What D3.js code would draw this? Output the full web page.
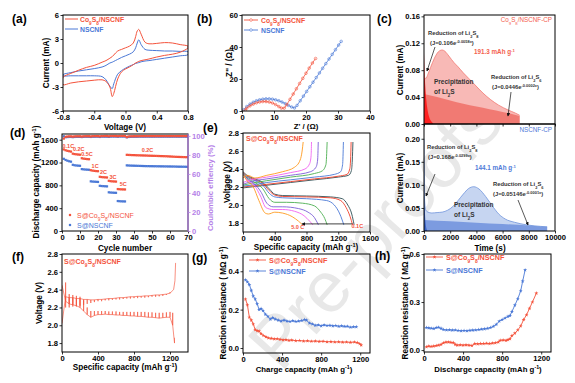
<!DOCTYPE html>
<html><head><meta charset="utf-8">
<script src="https://cdn.jsdelivr.net/npm/d3@7/dist/d3.min.js"></script>
<style>html,body{margin:0;padding:0;background:#fff;overflow:hidden}</style>
</head><body>
<svg id="fig" width="575" height="383"></svg>
<script>
// ---------------- DATA ----------------
// (a) CV
const cvGrid = [-0.8,-0.7,-0.6,-0.5,-0.4,-0.3,-0.25,-0.2,-0.17,-0.15,-0.1,-0.05,0,0.05,0.1,0.13,0.15,0.17,0.2,0.25,0.3,0.4,0.5,0.6,0.7,0.8];
const cvCoFwd = [-1.8,-1.3,-0.9,-0.55,-0.3,0.1,0.3,0.6,0.8,1.0,1.5,1.7,1.9,2.1,2.5,3.3,4.0,4.2,3.6,2.6,2.4,2.45,2.55,2.5,2.3,2.1];
const cvCoRev = [-2.7,-2.5,-2.35,-2.25,-2.15,-2.1,-2.3,-3.0,-4.2,-3.8,-2.0,-1.1,-0.75,-0.5,-0.2,0.0,0.1,0.2,0.3,0.4,0.5,0.75,0.95,1.1,1.35,1.9];
const cvNFwd = [-1.45,-1.2,-1.0,-0.85,-0.7,-0.5,-0.3,0.0,0.1,0.2,0.45,0.7,0.9,1.1,1.4,1.9,2.5,2.9,2.3,1.7,1.6,1.55,1.5,1.5,1.45,1.4];
const cvNRev = [-1.6,-1.6,-1.6,-1.6,-1.6,-1.7,-2.1,-2.9,-3.2,-2.6,-1.4,-0.95,-0.65,-0.4,-0.2,-0.05,0.0,0.05,0.15,0.25,0.3,0.45,0.6,0.75,0.9,1.05];
// (b) EIS
const eisCoRe = [1,1.5,2.5,3.5,4.5,5.5,6.5,7.5,8.5,9.5,10.5,11.5,12.3,13.2,14,15,16,17,18,19,20,21,22,23];
const eisCoIm = [0.5,1.8,3.2,4.3,5.1,5.6,5.9,5.9,5.6,5,4,2.8,1.8,1.8,4,7.3,10.6,13.9,17.2,20.4,23.6,26.8,30,32.8];
const eisNRe = [0.5,1.5,2.5,3.5,4.5,5.5,6.5,7.5,8.5,9.5,10.5,11.5,12.5,13.5,14.5,15.5,16.4,17.2,18.2,19.2,20.2,21.2,22.2,23.2,24.2,25.2,26.2,27.2,28.2,29.2,30.2,31];
const eisNIm = [0.8,2.8,4.3,5.5,6.4,7,7.4,7.6,7.6,7.4,7,6.4,5.6,4.6,3.5,2.5,1.9,3.5,6.4,9.3,12.2,15.1,18,20.9,23.8,26.7,29.6,32.5,35.4,38.3,41.2,43.5];
// (c) chronoamperometry
const cCoTotT = [0,50,150,300,500,800,1000,1200,1400,1600,1900,2300,2600,3000,3400,3900,4500,5100,5700,6400,7000,7300];
const cCoTotI = [0.075,0.068,0.068,0.074,0.084,0.098,0.105,0.109,0.11,0.108,0.101,0.091,0.085,0.076,0.068,0.058,0.046,0.036,0.028,0.021,0.016,0.013];
const cCoExpT = [0,1000,2000,3000,4000,5000,6000,7000,7300];
const cCoExpI = [0.0446,0.04,0.035,0.03,0.026,0.022,0.018,0.0135,0.012];
const cCoSpkT = [0,40,100,180,280,400,550,700];
const cCoSpkI = [0.106,0.08,0.055,0.035,0.02,0.01,0.004,0.001];
const cNTotT = [0,40,130,300,600,1000,1400,1800,2200,2600,3000,3400,3800,4200,4700,5200,5700,6200,6900,7900,8900,9400];
const cNTotI = [0.2,0.07,0.046,0.041,0.039,0.04,0.041,0.045,0.053,0.066,0.08,0.092,0.096,0.091,0.075,0.055,0.037,0.026,0.019,0.013,0.01,0.009];
const cNExpT = [0,2000,4000,6000,8000,9400];
const cNExpI = [0.024,0.021,0.018,0.015,0.012,0.009];
const cNSpkT = [0,15,40,80,130,200,260];
const cNSpkI = [0.168,0.12,0.07,0.035,0.015,0.004,0.0];
// (d) rate performance
const dCapCo = [1430,1415,1405,1398,1392, 1355,1348,1344,1340,1337, 1275,1268,1264,1260,1258, 1065,1058,1054,1050,1048, 950,945,942,940,938, 880,873,870,868,866, 735,732,730,729,728,
 1335,1333,1332,1330,1330,1328,1327,1326,1325,1324,1323,1322,1320,1319,1318,1317,1316,1315,1314,1313,1312,1311,1310,1308,1306,1304,1302,1300,1299,1298,1297,1296,1295,1294,1293];
const dCapN = [1265,1245,1232,1222,1215, 1160,1152,1148,1145,1143, 1085,1080,1077,1075,1073, 870,866,864,862,860, 792,788,786,784,782, 678,674,672,670,669, 525,522,520,519,518,
 1150,1148,1146,1145,1144,1143,1142,1141,1140,1139,1138,1137,1137,1136,1136,1135,1135,1134,1134,1133,1133,1132,1132,1131,1131,1130,1130,1129,1128,1127,1127,1126,1126,1125,1125];
const dCeCo = [97.2,99.0,99.3,99.5,99.5,99.2,99.5,99.6,99.6,99.6,99.3,99.6,99.7,99.7,99.7,99.4,99.7,99.8,99.8,99.8,99.5,99.8,99.8,99.9,99.9,99.6,99.9,99.9,99.9,99.9,99.7,99.9,99.9,99.9,99.9,
 98.8,99.4,99.6,99.6,99.7,99.7,99.7,99.7,99.8,99.8,99.8,99.8,99.8,99.8,99.8,99.8,99.8,99.8,99.8,99.8,99.8,99.8,99.8,99.8,99.8,99.8,99.8,99.8,99.8,99.8,99.8,99.8,99.8,99.8,99.8];
const dCeN = [99.6,98.6,98.8,98.9,98.9,98.7,98.9,99.0,99.0,99.0,98.8,99.0,99.1,99.1,99.1,98.9,99.1,99.1,99.2,99.2,98.9,99.2,99.2,99.2,99.2,99.0,99.2,99.3,99.3,99.3,99.1,99.3,99.3,99.3,99.3,
 98.5,98.9,99.0,99.1,99.1,99.1,99.1,99.2,99.2,99.2,99.2,99.2,99.2,99.2,99.2,99.2,99.2,99.2,99.2,99.2,99.2,99.2,99.2,99.2,99.2,99.2,99.2,99.2,99.2,99.2,99.2,99.2,99.2,99.2,99.2];
const dRateLabels = ['0.1C','0.2C','0.5C','1C','2C','3C','5C','0.2C'];
const dRateCycle = [3.5,9.3,13.9,18.4,23,28.3,34,47.5];
const dRateCap = [1455,1400,1315,1105,1000,915,790,1383];
// (e) charge-discharge profiles
const eRates = ['0.1C','0.2C','0.5C','1C','2C','3C','5C'];
const eColors = ['#2f4f55','#f0402a','#4a78d6','#4caf50','#7b5fd6','#f062f0','#ff9a1f'];
const eDisCap = [
 [0,50,150,250,330,400,500,800,1100,1250,1320,1370,1400],
 [0,50,150,250,330,400,500,800,1100,1230,1300,1350,1380],
 [0,50,150,250,330,400,500,800,1050,1150,1220,1270],
 [0,50,150,250,330,400,550,750,900,980,1030,1060],
 [0,50,150,230,300,380,500,700,820,900,950],
 [0,50,150,220,290,380,500,650,770,840,880],
 [0,50,130,200,280,320,400,500,620,700,750]];
const eDisV = [
 [2.37,2.33,2.29,2.25,2.18,2.12,2.105,2.1,2.09,2.07,2.0,1.9,1.78],
 [2.36,2.32,2.28,2.24,2.16,2.11,2.095,2.09,2.08,2.05,1.97,1.87,1.78],
 [2.35,2.31,2.27,2.22,2.13,2.09,2.08,2.07,2.05,2.0,1.9,1.78],
 [2.35,2.3,2.25,2.18,2.07,2.03,2.03,2.02,1.99,1.92,1.85,1.78],
 [2.34,2.29,2.23,2.14,2.02,1.98,1.98,1.96,1.92,1.86,1.78],
 [2.34,2.28,2.21,2.1,1.97,1.95,1.95,1.93,1.88,1.82,1.78],
 [2.34,2.27,2.2,2.05,1.91,1.9,1.92,1.91,1.87,1.82,1.78]];
const eChCap = [
 [0,100,300,600,900,1200,1330,1365,1377,1385],
 [0,100,300,600,900,1200,1310,1345,1355,1362],
 [0,100,300,600,900,1150,1230,1255,1265],
 [0,100,300,600,900,1000,1045,1060],
 [0,100,300,600,850,920,940,948],
 [0,100,300,600,780,840,858,863],
 [0,60,150,300,500,650,720,745,758]];
const eChV = [
 [2.19,2.2,2.22,2.25,2.28,2.31,2.33,2.38,2.5,2.7],
 [2.2,2.21,2.23,2.26,2.29,2.32,2.34,2.4,2.5,2.7],
 [2.21,2.22,2.25,2.28,2.31,2.34,2.37,2.45,2.7],
 [2.22,2.24,2.27,2.31,2.35,2.38,2.45,2.7],
 [2.23,2.26,2.29,2.33,2.37,2.42,2.5,2.7],
 [2.25,2.28,2.31,2.36,2.4,2.46,2.55,2.7],
 [2.3,2.33,2.3,2.33,2.37,2.42,2.5,2.6,2.7]];
// (f) GITT
const fDisStart = [0,2.45];
const fDisCap = [40,80,120,160,200,240,280,320,360,400,440,480,520,560,600,640,680,720,760,800,840,880,920,960,1000,1040,1080,1120,1160,1200,1230,1250];
const fDisLoad = [2.27,2.24,2.23,2.22,2.20,2.16,2.12,2.09,2.11,2.12,2.12,2.125,2.12,2.12,2.115,2.115,2.11,2.11,2.105,2.105,2.1,2.1,2.095,2.09,2.09,2.085,2.08,2.085,2.09,2.09,2.0,1.8];
const fDisRelax = [2.48,2.35,2.34,2.33,2.32,2.28,2.2,2.16,2.16,2.16,2.16,2.16,2.155,2.155,2.155,2.15,2.15,2.15,2.15,2.15,2.15,2.15,2.15,2.145,2.145,2.14,2.14,2.14,2.145,2.15,2.14,1.86];
const fChStart = [0,2.02];
const fChCap = [40,80,120,160,200,240,280,320,360,400,440,480,520,560,600,640,680,720,760,800,840,880,920,960,1000,1040,1080,1120,1160,1200,1240,1255,1262];
const fChLoad = [2.32,2.31,2.31,2.3,2.3,2.29,2.29,2.285,2.285,2.29,2.29,2.295,2.3,2.3,2.305,2.31,2.31,2.315,2.32,2.32,2.325,2.325,2.33,2.33,2.335,2.34,2.34,2.345,2.35,2.36,2.4,2.5,2.7];
const fChRelax = [2.2,2.2,2.21,2.21,2.22,2.23,2.24,2.25,2.26,2.27,2.27,2.28,2.28,2.285,2.29,2.29,2.295,2.3,2.3,2.305,2.305,2.31,2.31,2.315,2.32,2.32,2.325,2.33,2.34,2.37,2.4,2.5,2.7];
// (g) reaction resistance during charge
const gCoCap = [25,45,65,85,105,125,145,165,185,210,235,260,290,320,350,380,410,440,470,500,540,580,620,660,700,740,780,820,860,900,940,980,1020,1060,1100,1140,1170,1195,1210];
const gCoR = [0.255,0.225,0.16,0.145,0.125,0.095,0.09,0.088,0.075,0.065,0.058,0.052,0.05,0.047,0.048,0.045,0.042,0.043,0.04,0.041,0.038,0.039,0.036,0.037,0.035,0.036,0.034,0.035,0.032,0.033,0.031,0.032,0.03,0.031,0.029,0.031,0.028,0.022,0.015];
const gNCap = [25,45,65,85,105,125,145,165,185,205,230,255,280,305,330,360,390,420,450,480,510,540,570,600,630,650,680,710,740,770,800,830,860,890,920,950,980,1010,1040,1070,1100,1130,1160];
const gNR = [0.355,0.345,0.33,0.3,0.27,0.255,0.23,0.2,0.205,0.195,0.175,0.165,0.15,0.158,0.15,0.145,0.14,0.145,0.14,0.138,0.142,0.138,0.14,0.143,0.148,0.145,0.13,0.125,0.118,0.12,0.115,0.12,0.117,0.118,0.115,0.117,0.113,0.115,0.112,0.113,0.108,0.11,0.11];
// (h) reaction resistance during discharge
const hCoCap = [25,50,75,100,125,150,175,200,225,250,275,300,320,340,370,400,430,460,490,520,550,580,610,640,670,700,730,760,780,810,840,860,880,900,930,960,990,1020,1050,1080,1110,1150];
const hCoR = [0.02,0.025,0.022,0.025,0.028,0.03,0.035,0.045,0.05,0.05,0.048,0.046,0.035,0.03,0.032,0.03,0.032,0.03,0.028,0.04,0.038,0.04,0.04,0.042,0.04,0.043,0.045,0.05,0.06,0.062,0.06,0.065,0.07,0.09,0.105,0.125,0.15,0.19,0.22,0.26,0.3,0.355];
const hNCap = [25,50,75,100,125,150,175,200,230,260,290,320,350,380,410,440,470,500,530,560,590,620,650,680,710,740,770,800,830,860,880,900,930,960,990,1010,1035];
const hNR = [0.14,0.138,0.136,0.134,0.14,0.142,0.135,0.128,0.125,0.126,0.124,0.125,0.122,0.12,0.122,0.12,0.123,0.124,0.125,0.128,0.13,0.132,0.135,0.14,0.148,0.16,0.18,0.19,0.2,0.21,0.215,0.24,0.28,0.32,0.37,0.43,0.5];

// ---------------- HELPERS ----------------
const svg = d3.select('#fig');
const FONT = '"Liberation Sans", Arial, Helvetica, sans-serif';
const RED = '#f4533c', BLUE = '#4a78d6', PURPLE = '#b57fe8', GREY = '#333';
const zip = (a,b) => a.map((v,i)=>[v,b[i]]);
const fmt1 = d => d3.format('.1f')(d).replace('\u2212','-');
const fmt2 = d => d3.format('.2f')(d);
const fmtD = d => d3.format('d')(d).replace('\u2212','-');

function rich(t,str){
  str.split(/(_\{[^}]*\}|\^\{[^}]*\})/).filter(s=>s.length).forEach(s=>{
    if(s.startsWith('_{')) t.append('tspan').attr('baseline-shift','sub').attr('font-size','68%').text(s.slice(2,-1));
    else if(s.startsWith('^{')) t.append('tspan').attr('baseline-shift','super').attr('font-size','68%').text(s.slice(2,-1));
    else t.append('tspan').text(s);
  });
}
function label(x,y,str,o={}){
  const t = svg.append('text').attr('x',x).attr('y',y).attr('font-family',FONT)
    .attr('font-weight',o.weight||'bold').attr('font-size',o.size||8.2)
    .attr('fill',o.color||'#000').attr('text-anchor',o.anchor||'start');
  if(o.rot) t.attr('transform',`rotate(${o.rot},${x},${y})`);
  rich(t,str); return t;
}
let clipN = 0;
function panel(L,R,T,B,xd,yd){
  const id = 'clip'+(clipN++);
  svg.append('clipPath').attr('id',id).append('rect').attr('x',L).attr('y',T).attr('width',R-L).attr('height',B-T);
  return {L,R,T,B,x:d3.scaleLinear().domain(xd).range([L,R]),y:d3.scaleLinear().domain(yd).range([B,T]),
          g:svg.append('g').attr('clip-path',`url(#${id})`)};
}
function box(p,color){
  svg.append('rect').attr('x',p.L).attr('y',p.T).attr('width',p.R-p.L).attr('height',p.B-p.T)
    .attr('fill','none').attr('stroke',color||'#000').attr('stroke-width',1);
}
function styleAxis(s,color){
  s.select('.domain').remove();
  s.selectAll('line').attr('stroke',color).attr('stroke-width',0.8);
  s.selectAll('text').attr('font-family',FONT).attr('font-size',7.6).attr('font-weight','bold').attr('fill',color);
}
function bottomAxis(p,ticks,f,showLabels=true){
  const a = d3.axisBottom(p.x).tickValues(ticks).tickSize(2.5).tickPadding(1).tickFormat(showLabels?f:()=>'');
  styleAxis(svg.append('g').attr('transform',`translate(0,${p.B})`).call(a),'#000');
}
function leftAxis(p,ticks,f){
  const a = d3.axisLeft(p.y).tickValues(ticks).tickSize(2.5).tickPadding(1.5).tickFormat(f);
  styleAxis(svg.append('g').attr('transform',`translate(${p.L},0)`).call(a),'#000');
}
const lineGen = (p,curve) => d3.line().x(d=>p.x(d[0])).y(d=>p.y(d[1])).curve(curve||d3.curveLinear);
const areaGen = p => d3.area().x(d=>p.x(d[0])).y0(p.y(0)).y1(d=>p.y(d[1])).curve(d3.curveMonotoneX);

// arrow marker
const defs = svg.append('defs');
defs.append('marker').attr('id','arr').attr('viewBox','0 0 6 6').attr('refX',5).attr('refY',3)
  .attr('markerWidth',5).attr('markerHeight',5).attr('orient','auto')
  .append('path').attr('d','M0,0 L6,3 L0,6 z').attr('fill','#111');

// watermark
svg.append('text').attr('transform','translate(375,232) rotate(-48)').attr('text-anchor','middle')
  .attr('dominant-baseline','central').attr('font-family',FONT).attr('font-size',72)
  .attr('fill','#e8e8e8').text('Pre-proofs');

// ---------------- (a) ----------------
{
  const p = panel(63,188,15,111,[-0.8,0.8],[-6,6]);
  const loop = (f,r) => zip(cvGrid,f).concat(zip(cvGrid,r).reverse());
  p.g.append('path').attr('d',lineGen(p,d3.curveCatmullRomClosed.alpha(0.5))(loop(cvNFwd,cvNRev)))
    .attr('fill','none').attr('stroke',BLUE).attr('stroke-width',1);
  p.g.append('path').attr('d',lineGen(p,d3.curveCatmullRomClosed.alpha(0.5))(loop(cvCoFwd,cvCoRev)))
    .attr('fill','none').attr('stroke',RED).attr('stroke-width',1);
  box(p);
  bottomAxis(p,[-0.8,-0.4,0,0.4,0.8],fmt1);
  leftAxis(p,[-6,-3,0,3,6],fmtD);
  label(125,130,'Voltage (V)',{anchor:'middle'});
  label(49,63,'Current (mA)',{anchor:'middle',rot:-90});
  svg.append('line').attr('x1',65).attr('x2',78).attr('y1',19).attr('y2',19).attr('stroke',RED).attr('stroke-width',1);
  label(80,21.5,'Co_{9}S_{8}/NSCNF',{size:6.8,color:RED});
  svg.append('line').attr('x1',65).attr('x2',78).attr('y1',29).attr('y2',29).attr('stroke',BLUE).attr('stroke-width',1);
  label(80,31.5,'NSCNF',{size:6.8,color:BLUE});
  label(12,23,'(a)',{size:12});
}
// ---------------- (b) ----------------
{
  const p = panel(242,370,15,111,[0,40],[0,60]);
  [[eisNRe,eisNIm,BLUE],[eisCoRe,eisCoIm,RED]].forEach(([xr,yi,c])=>{
    const pts = zip(xr,yi);
    p.g.append('path').attr('d',lineGen(p)(pts)).attr('fill','none').attr('stroke',c).attr('stroke-width',0.8);
    p.g.selectAll(null).data(pts).enter().append('circle').attr('cx',d=>p.x(d[0])).attr('cy',d=>p.y(d[1]))
      .attr('r',1.3).attr('fill','none').attr('stroke',c).attr('stroke-width',0.6);
  });
  box(p);
  bottomAxis(p,[0,10,20,30,40],fmtD);
  leftAxis(p,[0,20,40,60],fmtD);
  label(306,128.5,"Z' / (\u03a9)",{anchor:'middle',size:7.8});
  label(232,63,"Z'' / (\u03a9)",{anchor:'middle',rot:-90});
  [[20,RED,'Co_{9}S_{8}/NSCNF'],[30,BLUE,'NSCNF']].forEach(([yy,c,s])=>{
    svg.append('line').attr('x1',244).attr('x2',258).attr('y1',yy).attr('y2',yy).attr('stroke',c).attr('stroke-width',0.9);
    svg.append('circle').attr('cx',251).attr('cy',yy).attr('r',1.3).attr('fill','#fff').attr('stroke',c).attr('stroke-width',0.6);
    label(261,yy+2.5,s,{size:6.8,color:c});
  });
  label(197,23,'(b)',{size:12});
}
// ---------------- (c) ----------------
{
  const pu = panel(424,555,15,124,[0,10000],[0,0.162]);
  pu.g.append('path').attr('d',areaGen(pu)(zip(cCoTotT,cCoTotI))).attr('fill','#f8b9b6');
  pu.g.append('path').attr('d',areaGen(pu)(zip(cCoExpT,cCoExpI))).attr('fill','#f0736c').attr('opacity',0.9);
  pu.g.append('path').attr('d',areaGen(pu)(zip(cCoSpkT,cCoSpkI))).attr('fill','#ff2020');
  pu.g.append('path').attr('d',lineGen(pu,d3.curveMonotoneX)(zip(cCoTotT,cCoTotI))).attr('fill','none').attr('stroke','#f27a74').attr('stroke-width',0.8);
  box(pu);
  bottomAxis(pu,[0,2000,4000,6000,8000,10000],fmtD,false);
  leftAxis(pu,[0,0.04,0.08,0.12,0.16],fmt2);
  label(403,70,'Current (mA)',{anchor:'middle',rot:-90});

  const pl = panel(424,555,124,231,[0,10000],[0,0.232]);
  pl.g.append('path').attr('d',areaGen(pl)(zip(cNTotT,cNTotI))).attr('fill','#c6d5f1');
  pl.g.append('path').attr('d',areaGen(pl)(zip(cNExpT,cNExpI))).attr('fill','#7c9be0');
  pl.g.append('path').attr('d',areaGen(pl)(zip(cNSpkT,cNSpkI))).attr('fill','#3b63c8');
  pl.g.append('path').attr('d',lineGen(pl,d3.curveMonotoneX)(zip(cNTotT,cNTotI))).attr('fill','none').attr('stroke','#7094dc').attr('stroke-width',0.8);
  box(pl);
  bottomAxis(pl,[0,2000,4000,6000,8000,10000],fmtD);
  leftAxis(pl,[0,0.05,0.1,0.15,0.2],fmt2);
  label(490,251,'Time (s)',{anchor:'middle'});
  label(403,178,'Current (mA)',{anchor:'middle',rot:-90});

  label(552,22,'Co_{9}S_{8}/NSCNF-CP',{size:6.3,color:'#f4604e',anchor:'end',weight:'normal'});
  label(428,35,'Reduction of Li_{2}S_{8}',{size:5.8,color:GREY});
  label(430,45,'(J=0.106e^{-0.0058x})',{size:5.8,color:GREY});
  label(474,54,'191.3 mAh g^{-1}',{size:6.3,color:'#f4604e'});
  label(434,84,'Precipitation',{size:6.5,color:GREY});
  label(434,94,'of Li_{2}S',{size:6.5,color:GREY});
  label(491,79,'Reduction of Li_{2}S_{6}',{size:5.8,color:GREY});
  label(492,89,'(J=0.0446e^{-0.0002x})',{size:5.8,color:GREY});
  svg.append('line').attr('x1',435).attr('y1',47).attr('x2',427).attr('y2',71).attr('stroke','#111').attr('stroke-width',0.7).attr('marker-end','url(#arr)');
  svg.append('line').attr('x1',511).attr('y1',92).attr('x2',508).attr('y2',116).attr('stroke','#111').attr('stroke-width',0.7).attr('marker-end','url(#arr)');

  label(552,132,'NSCNF-CP',{size:6.3,color:'#4f7ad8',anchor:'end',weight:'normal'});
  label(427,149,'Reduction of Li_{2}S_{8}',{size:5.8,color:GREY});
  label(428,159,'(J=0.168e^{-0.0299x})',{size:5.8,color:GREY});
  label(475,170,'144.1 mAh g^{-1}',{size:6.3,color:'#4f7ad8'});
  label(454,207,'Precipitation',{size:6.5,color:GREY});
  label(454,217,'of Li_{2}S',{size:6.5,color:GREY});
  label(493,186,'Reduction of Li_{2}S_{6}',{size:5.8,color:GREY});
  label(493,196,'(J=0.05146e^{-0.0001x})',{size:5.8,color:GREY});
  svg.append('line').attr('x1',435).attr('y1',174).attr('x2',426).attr('y2',196).attr('stroke','#111').attr('stroke-width',0.7).attr('marker-end','url(#arr)');
  svg.append('line').attr('x1',518).attr('y1',200).attr('x2',528).attr('y2',225).attr('stroke','#111').attr('stroke-width',0.7).attr('marker-end','url(#arr)');
  label(377,23,'(c)',{size:12});
}
// ---------------- (d) ----------------
{
  const p = panel(62,188,134,231,[0,70],[0,1700]);
  const yR = d3.scaleLinear().domain([0,102]).range([231,134]);
  const sq = d3.symbol().type(d3.symbolSquare).size(5);
  const draw = (vals,scale,c) => p.g.selectAll(null).data(vals).enter().append('path').attr('d',sq)
      .attr('transform',(d,i)=>`translate(${p.x(i+1)},${scale(d)})`).attr('fill',c);
  draw(dCeN,yR,BLUE); draw(dCeCo,yR,RED);
  draw(dCapN,p.y,BLUE); draw(dCapCo,p.y,RED);
  box(p);
  svg.append('line').attr('x1',188).attr('x2',188).attr('y1',134).attr('y2',231).attr('stroke',PURPLE).attr('stroke-width',1.2);
  bottomAxis(p,[0,10,20,30,40,50,60,70],fmtD);
  leftAxis(p,[0,400,800,1200,1600],fmtD);
  const ra = d3.axisRight(yR).tickValues([0,20,40,60,80,100]).tickSize(2.5).tickPadding(1.5).tickFormat(fmtD);
  styleAxis(svg.append('g').attr('transform','translate(188,0)').call(ra),PURPLE);
  dRateLabels.forEach((s,i)=>label(p.x(dRateCycle[i]),p.y(dRateCap[i]),s,{size:5.5,color:RED,anchor:'middle'}));
  svg.append('path').attr('d',sq).attr('transform','translate(70,215)').attr('fill',RED);
  label(77,217.5,'S@Co_{9}S_{8}/NSCNF',{size:7,color:RED,weight:'normal'});
  svg.append('path').attr('d',sq).attr('transform','translate(70,225)').attr('fill',BLUE);
  label(77,227.5,'S@NSCNF',{size:7,color:BLUE,weight:'normal'});
  label(125,251,'Cycle number',{anchor:'middle'});
  label(39,182,'Discharge capacity (mAh g^{-1})',{anchor:'middle',rot:-90});
  label(213,188,'Coulombic effiency (%)',{anchor:'middle',rot:-90,color:PURPLE,size:7.8});
  label(10,137,'(d)',{size:12});
}
// ---------------- (e) ----------------
{
  const p = panel(243,370,133,232,[0,1600],[1.7,2.8]);
  eRates.forEach((r,k)=>{
    p.g.append('path').attr('d',lineGen(p,d3.curveMonotoneX)(zip(eDisCap[k],eDisV[k]))).attr('fill','none').attr('stroke',eColors[k]).attr('stroke-width',0.9);
    p.g.append('path').attr('d',lineGen(p,d3.curveMonotoneX)(zip(eChCap[k],eChV[k]))).attr('fill','none').attr('stroke',eColors[k]).attr('stroke-width',0.9);
  });
  svg.append('line').attr('x1',p.x(1381)).attr('x2',p.x(745)).attr('y1',p.y(1.79)).attr('y2',p.y(1.79))
    .attr('stroke','#111').attr('stroke-width',0.8).attr('marker-end','url(#arr)');
  label(p.x(690),p.y(1.735),'5.0 C',{size:5.5,color:RED,anchor:'middle'});
  label(p.x(1440),p.y(1.75),'0.1C',{size:5.5,color:RED,anchor:'middle'});
  box(p);
  bottomAxis(p,[0,400,800,1200,1600],fmtD);
  leftAxis(p,[1.8,2.0,2.2,2.4,2.6,2.8],fmt1);
  label(306,250,'Specific capacity (mAh g^{-1})',{anchor:'middle'});
  label(230,182,'Voltage (V)',{anchor:'middle',rot:-90});
  label(246,141,'S@Co_{9}S_{8}/NSCNF',{size:7,color:RED});
  label(203,132,'(e)',{size:12});
}
// ---------------- (f) ----------------
{
  const p = panel(62,188,254,352,[0,1400],[1.7,2.8]);
  const gitt = (start,caps,load,relax) => {
    const pts=[start];
    caps.forEach((c,i)=>{ pts.push([c,load[i]]); pts.push([c,relax[i]]); if(i<caps.length-1) pts.push([c,load[i]]); });
    return pts;
  };
  p.g.append('path').attr('d',lineGen(p)(gitt(fDisStart,fDisCap,fDisLoad,fDisRelax))).attr('fill','none').attr('stroke',RED).attr('stroke-width',0.65);
  p.g.append('path').attr('d',lineGen(p)(gitt(fChStart,fChCap,fChLoad,fChRelax))).attr('fill','none').attr('stroke',RED).attr('stroke-width',0.65);
  box(p);
  bottomAxis(p,[0,400,800,1200],fmtD);
  leftAxis(p,[1.8,2.0,2.2,2.4,2.6,2.8],fmt1);
  label(125,370,'Specific capacity (mAh g^{-1})',{anchor:'middle'});
  label(42,303,'Voltage (V)',{anchor:'middle',rot:-90});
  label(64,264,'S@Co_{9}S_{8}/NSCNF',{size:7,color:RED});
  label(12,261,'(f)',{size:12});
}
// ---------------- (g) & (h) ----------------
const star = d3.symbol().type(d3.symbolStar).size(5);
function resPanel(p,series){
  series.forEach(([cap,r,c])=>{
    const pts = zip(cap,r);
    p.g.append('path').attr('d',lineGen(p)(pts)).attr('fill','none').attr('stroke',c).attr('stroke-width',0.9);
    p.g.selectAll(null).data(pts).enter().append('path').attr('d',star)
      .attr('transform',d=>`translate(${p.x(d[0])},${p.y(d[1])})`).attr('fill',c);
  });
  box(p);
}
function resLegend(x,y1,y2){
  [[y1,RED,'S@Co_{9}S_{8}/NSCNF'],[y2,BLUE,'S@NSCNF']].forEach(([yy,c,s])=>{
    svg.append('line').attr('x1',x).attr('x2',x+17).attr('y1',yy).attr('y2',yy).attr('stroke',c).attr('stroke-width',0.9);
    svg.append('path').attr('d',star).attr('transform',`translate(${x+8.5},${yy})`).attr('fill',c);
    label(x+20,yy+2.5,s,{size:7.2,color:c});
  });
}
{
  const p = panel(243,370,254,353,[0,1300],[-0.026,0.49]);
  resPanel(p,[[gNCap,gNR,BLUE],[gCoCap,gCoR,RED]]);
  bottomAxis(p,[0,400,800,1200],fmtD);
  leftAxis(p,[0,0.2,0.4],fmt1);
  resLegend(249,260,271);
  label(304,371.5,'Charge capacity (mAh g^{-1})',{anchor:'middle',size:7.8});
  label(226,303,'Reaction resistance ( M\u03a9 g^{-1})',{anchor:'middle',rot:-90});
  label(192,262,'(g)',{size:12});
}
{
  const p = panel(424,551,254,352,[0,1300],[-0.012,0.6]);
  resPanel(p,[[hNCap,hNR,BLUE],[hCoCap,hCoR,RED]]);
  bottomAxis(p,[0,400,800,1200],fmtD);
  leftAxis(p,[0,0.3,0.6],fmt1);
  resLegend(426,257,270);
  label(488,371.5,'Discharge capacity (mAh g^{-1})',{anchor:'middle',size:7.8});
  label(408,303,'Reaction resistance ( M\u03a9 g^{-1})',{anchor:'middle',rot:-90});
  label(375,260,'(h)',{size:12});
}
</script>
</body></html>
